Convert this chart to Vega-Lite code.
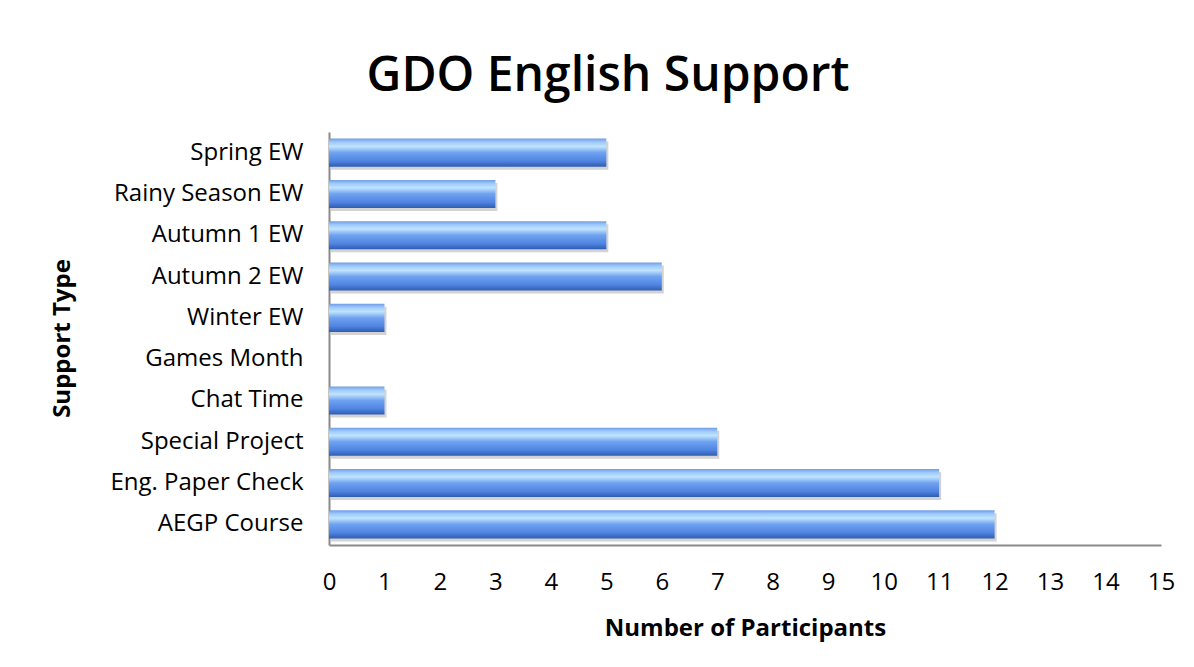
{
  "$schema": "https://vega.github.io/schema/vega-lite/v6.json",
  "width": 832,
  "height": 413,
  "autosize": {"type": "none"},
  "padding": {"left": 329, "top": 132, "right": 33, "bottom": 122},
  "background": "white",
  "config": {"view": {"stroke": null}},
  "title": {
    "text": "GDO English Support",
    "font": "Open Sans",
    "fontSize": 48,
    "fontWeight": 600,
    "color": "#000000",
    "anchor": "middle",
    "dx": -137,
    "dy": 53,
    "baseline": "alphabetic",
    "offset": 46
  },
  "data": {
    "values": [
      {"type": "Spring EW", "n": 5},
      {"type": "Rainy Season EW", "n": 3},
      {"type": "Autumn 1 EW", "n": 5},
      {"type": "Autumn 2 EW", "n": 6},
      {"type": "Winter EW", "n": 1},
      {"type": "Games Month", "n": 0},
      {"type": "Chat Time", "n": 1},
      {"type": "Special Project", "n": 7},
      {"type": "Eng. Paper Check", "n": 11},
      {"type": "AEGP Course", "n": 12}
    ]
  },
  "encoding": {
    "y": {
      "field": "type",
      "type": "nominal",
      "sort": null,
      "scale": {"paddingInner": 0.32, "paddingOuter": 0.16},
      "axis": {
        "title": "Support Type",
        "titleFont": "Open Sans",
        "titleFontSize": 24,
        "titleFontWeight": "bold",
        "titleColor": "#000000",
        "titleAngle": -90,
        "titleAlign": "center",
        "titleBaseline": "middle",
        "titleX": -267,
        "titleY": 206,
        "labelFont": "Open Sans",
        "labelFontSize": 24,
        "labelColor": "#000000",
        "labelPadding": 26,
        "labelLimit": 400,
        "ticks": false,
        "domainColor": "#8a8a8a",
        "domainWidth": 2,
        "grid": false
      }
    },
    "x": {
      "field": "n",
      "type": "quantitative",
      "scale": {"domain": [0, 15], "nice": false},
      "axis": {
        "title": "Number of Participants",
        "titleFont": "Open Sans",
        "titleFontSize": 24,
        "titleFontWeight": "bold",
        "titleColor": "#000000",
        "titleBaseline": "middle",
        "titleY": 83,
        "values": [0,1,2,3,4,5,6,7,8,9,10,11,12,13,14,15],
        "labelFont": "Open Sans",
        "labelFontSize": 24,
        "labelColor": "#000000",
        "labelPadding": 25,
        "labelFlush": false,
        "ticks": false,
        "domainColor": "#8a8a8a",
        "domainWidth": 2,
        "grid": false
      }
    }
  },
  "layer": [
    {
      "mark": {"type": "bar", "color": "#808080", "opacity": 0.35, "yOffset": 3, "xOffset": 2}
    },
    {
      "mark": {
        "type": "bar",
        "color": {
          "gradient": "linear",
          "x1": 0, "y1": 0, "x2": 0, "y2": 1,
          "stops": [
            {"offset": 0, "color": "#6f9ce6"},
            {"offset": 0.12, "color": "#9cc7fa"},
            {"offset": 0.28, "color": "#c0e4fd"},
            {"offset": 0.5, "color": "#6fa2f0"},
            {"offset": 0.8, "color": "#4f84e2"},
            {"offset": 1, "color": "#2f5cb0"}
          ]
        }
      }
    }
  ]
}
